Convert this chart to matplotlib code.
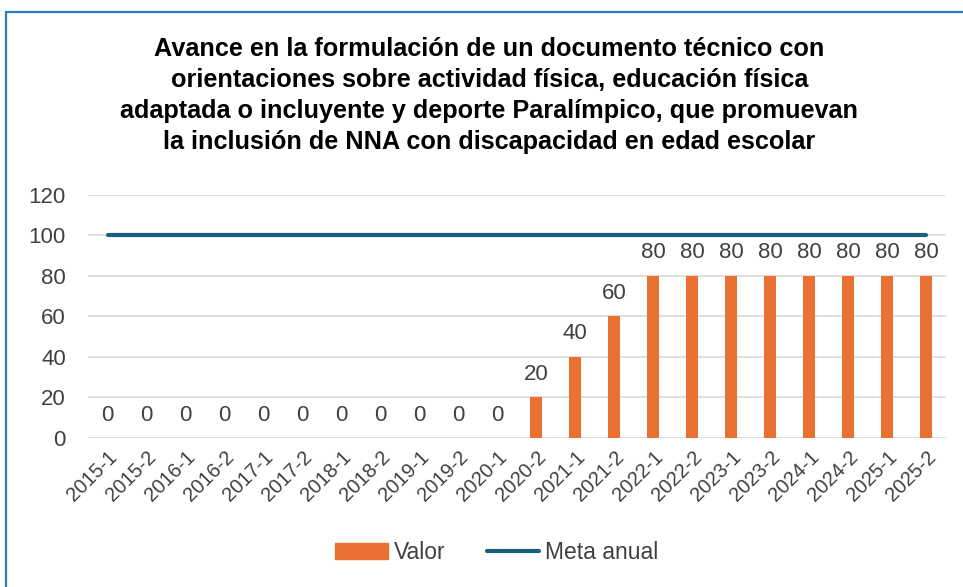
import matplotlib.pyplot as plt
import matplotlib.patches as mpatches
from matplotlib.lines import Line2D

# data
periodos = ["2015-1", "2015-2", "2016-1", "2016-2", "2017-1", "2017-2",
            "2018-1", "2018-2", "2019-1", "2019-2", "2020-1", "2020-2",
            "2021-1", "2021-2", "2022-1", "2022-2", "2023-1", "2023-2",
            "2024-1", "2024-2", "2025-1", "2025-2"]
valor = [0, 0, 0, 0, 0, 0, 0, 0, 0, 0, 0, 20, 40, 60, 80, 80, 80, 80, 80, 80, 80, 80]
meta = [100] * 22
titulo = ("Avance en la formulación de un documento técnico con\n"
          "orientaciones sobre actividad física, educación física\n"
          "adaptada o incluyente y deporte Paralímpico, que promuevan\n"
          "la inclusión de NNA con discapacidad en edad escolar")

plt.rcParams['font.family'] = ['Liberation Sans', 'DejaVu Sans']
naranja = '#E97132'
azul = '#1A5E80'
gris = '#404040'

fig = plt.figure(figsize=(9.63, 5.87), dpi=100)
ax = fig.add_axes([0.0914, 0.2538, 0.8906, 0.4142])

x = list(range(len(periodos)))
ax.bar(x, valor, width=0.31, color=naranja, zorder=2)
ax.plot(x, meta, color=azul, lw=3, solid_capstyle='round', zorder=3)

for xi, v in zip(x, valor):
    ax.annotate(str(v), (xi, v), xytext=(0, 9), textcoords='offset points',
                ha='center', va='bottom', fontsize=16, color=gris)

ax.set_xlim(-0.5, len(periodos) - 0.5)
ax.set_ylim(0, 120)
ax.set_yticks(range(0, 121, 20))
ax.set_xticks(x)
ax.set_xticklabels(periodos, rotation=45, ha='right', rotation_mode='anchor',
                   fontsize=14.5, color=gris)
ax.tick_params(axis='y', labelsize=16, labelcolor=gris, length=0, pad=16)
ax.tick_params(axis='x', length=0, pad=7)
ax.grid(axis='y', color='#D9D9D9', lw=1.2, zorder=0)
for s in ax.spines.values():
    s.set_visible(False)

fig.text(0.508, 0.937, titulo, ha='center', va='top', fontsize=18.2,
         fontweight='bold', color='black', linespacing=1.37)

handles = [mpatches.Patch(color=naranja, label='Valor'),
           Line2D([0], [0], color=azul, lw=3, solid_capstyle='round', label='Meta anual')]
fig.legend(handles=handles, loc='center', bbox_to_anchor=(0.516, 0.058), ncol=2,
           frameon=False, fontsize=16.5, labelcolor=gris, handlelength=2.3,
           handletextpad=0.25, columnspacing=1.8)

border = mpatches.Rectangle((5.5 / 963, -0.05), 1.1, 1 - 11.5 / 587 + 0.05,
                            transform=fig.transFigure, fill=False,
                            edgecolor='#2B7BC0', lw=1.6, clip_on=False)
fig.patches.append(border)

fig.savefig('out.png', dpi=100)
